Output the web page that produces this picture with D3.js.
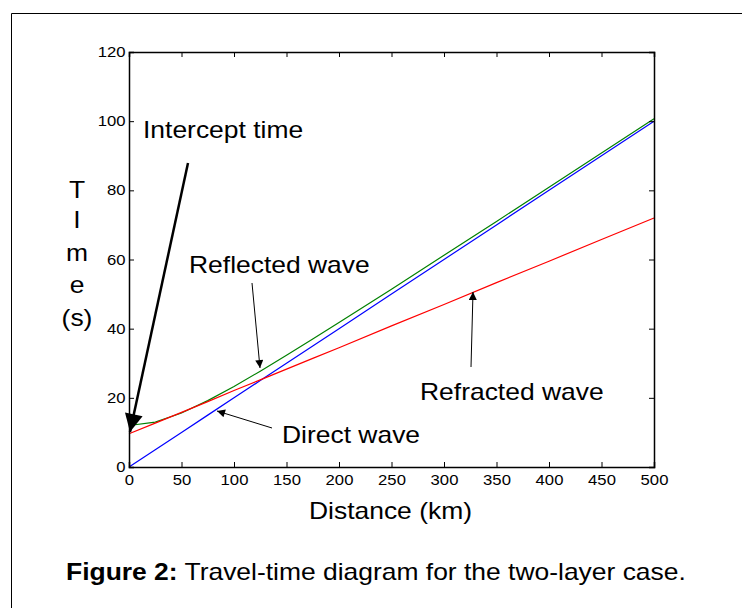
<!DOCTYPE html>
<html>
<head>
<meta charset="utf-8">
<script src="https://cdn.jsdelivr.net/npm/d3@7/dist/d3.min.js"></script>
<style>
  html, body { margin: 0; padding: 0; background: #fff; }
  svg { display: block; font-family: Arial, "Liberation Sans", sans-serif; }
</style>
</head>
<body>
<svg id="chart" width="742" height="608"></svg>
<script>
// ---- data ----
const distance  = [0, 25, 50, 75, 100, 125, 150, 175, 200, 250, 300, 350, 400, 450, 500];
const direct    = [0, 5, 10, 15, 20, 25, 30, 35, 40, 50, 60, 70, 80, 90, 100];
const reflected = [12.0, 13.0, 15.6, 19.2, 23.3, 27.7, 32.3, 37.0, 41.8, 51.4, 61.2, 71.0, 80.9, 90.8, 100.7];
const refracted = [9.6, 12.7, 15.8, 18.9, 22.1, 25.2, 28.3, 31.4, 34.5, 40.8, 47.0, 53.3, 59.5, 65.8, 72.0];
const xTicks = [0, 50, 100, 150, 200, 250, 300, 350, 400, 450, 500];
const yTicks = [0, 20, 40, 60, 80, 100, 120];
const yLabelLetters = ["T", "I", "m", "e", "(s)"];

(function () {
const svg = d3.select("#chart");
const pLeft = 129, pRight = 654, pTop = 52, pBottom = 467;
const sx = 1.15; // horizontal stretch of the lettering in the reference
const x = d3.scaleLinear().domain([0, 500]).range([pLeft, pRight]);
const y = d3.scaleLinear().domain([0, 120]).range([pBottom, pTop]);

// outer frame (top and left edges)
svg.append("path").attr("d", "M11.5,608 L11.5,13.5 L742,13.5")
  .attr("fill", "none").attr("stroke", "#000").attr("stroke-width", 1);

// series
const line = d3.line().x(d => x(d[0])).y(d => y(d[1]));
const series = [
  {vals: reflected, color: "#008000"},
  {vals: direct, color: "#0000ff"},
  {vals: refracted, color: "#ff0000"}
];
series.forEach(s => {
  svg.append("path")
    .datum(distance.map((d, i) => [d, s.vals[i]]))
    .attr("d", line)
    .attr("fill", "none")
    .attr("stroke", s.color)
    .attr("stroke-width", 1.2);
});

// axes (ticks inward, MATLAB box)
const tickLen = 5;
const gx = svg.append("g").attr("transform", `translate(0,${pBottom})`)
  .call(d3.axisBottom(x).tickValues(xTicks).tickSize(-tickLen).tickPadding(8));
const gxTop = svg.append("g").attr("transform", `translate(0,${pTop})`)
  .call(d3.axisTop(x).tickValues(xTicks).tickSize(-tickLen).tickFormat(""));
const gy = svg.append("g").attr("transform", `translate(${pLeft},0)`)
  .call(d3.axisLeft(y).tickValues(yTicks).tickSize(-tickLen).tickPadding(3));
const gyR = svg.append("g").attr("transform", `translate(${pRight},0)`)
  .call(d3.axisRight(y).tickValues(yTicks).tickSize(-tickLen).tickFormat(""));
[gx, gxTop, gy, gyR].forEach(g => {
  g.select(".domain").attr("stroke", "#000").attr("stroke-width", 1.5);
  g.selectAll(".tick line").attr("stroke", "#000").attr("stroke-width", 1);
  g.selectAll("text").attr("font-size", 14.5).attr("fill", "#000")
    .attr("font-family", "Arial, 'Liberation Sans', sans-serif")
    .attr("transform", `scale(${sx},1)`);
});

function label(t, px, py, size, anchor) {
  return svg.append("text")
    .attr("transform", `translate(${px},${py}) scale(${sx},1)`)
    .attr("text-anchor", anchor || "start")
    .attr("font-size", size).text(t);
}

// axis labels
label("Distance (km)", (pLeft + pRight) / 2 - 1, 519, 23, "middle");
const ly = [198, 228, 261, 293, 326];
yLabelLetters.forEach((t, i) => label(t, 77, ly[i], 23, "middle"));

// annotations
const defs = svg.append("defs");
defs.append("marker").attr("id", "bigHead").attr("viewBox", "0 0 10 10")
  .attr("refX", 10).attr("refY", 5).attr("markerWidth", 24).attr("markerHeight", 18)
  .attr("markerUnits", "userSpaceOnUse").attr("orient", "auto")
  .append("path").attr("d", "M0,0 L10,5 L0,10 Z").attr("fill", "#000");
defs.append("marker").attr("id", "smallHead").attr("viewBox", "0 0 10 10")
  .attr("refX", 10).attr("refY", 5).attr("markerWidth", 13).attr("markerHeight", 8)
  .attr("markerUnits", "userSpaceOnUse").attr("orient", "auto")
  .append("path").attr("d", "M0,0 L10,5 L0,10 Z").attr("fill", "#000");

function arrow(x1, y1, x2, y2, w, m) {
  svg.append("line").attr("x1", x1).attr("y1", y1).attr("x2", x2).attr("y2", y2)
    .attr("stroke", "#000").attr("stroke-width", w).attr("marker-end", `url(#${m})`);
}
arrow(188, 163, 130, 432, 2.5, "bigHead");
arrow(252, 283, 260, 368, 1, "smallHead");
arrow(272, 428, 217, 411, 1, "smallHead");
arrow(471, 367, 473, 292, 1, "smallHead");

label("Intercept time", 143, 138, 23);
label("Reflected wave", 189, 273, 23);
label("Direct wave", 282, 443, 23);
label("Refracted wave", 420, 400, 23);

// caption
const cap = svg.append("text")
  .attr("transform", `translate(66,580) scale(${sx},1)`).attr("font-size", 23);
cap.append("tspan").attr("font-weight", "bold").text("Figure 2:");
cap.append("tspan").text(" Travel-time diagram for the two-layer case.");
})();
</script>
</body>
</html>
